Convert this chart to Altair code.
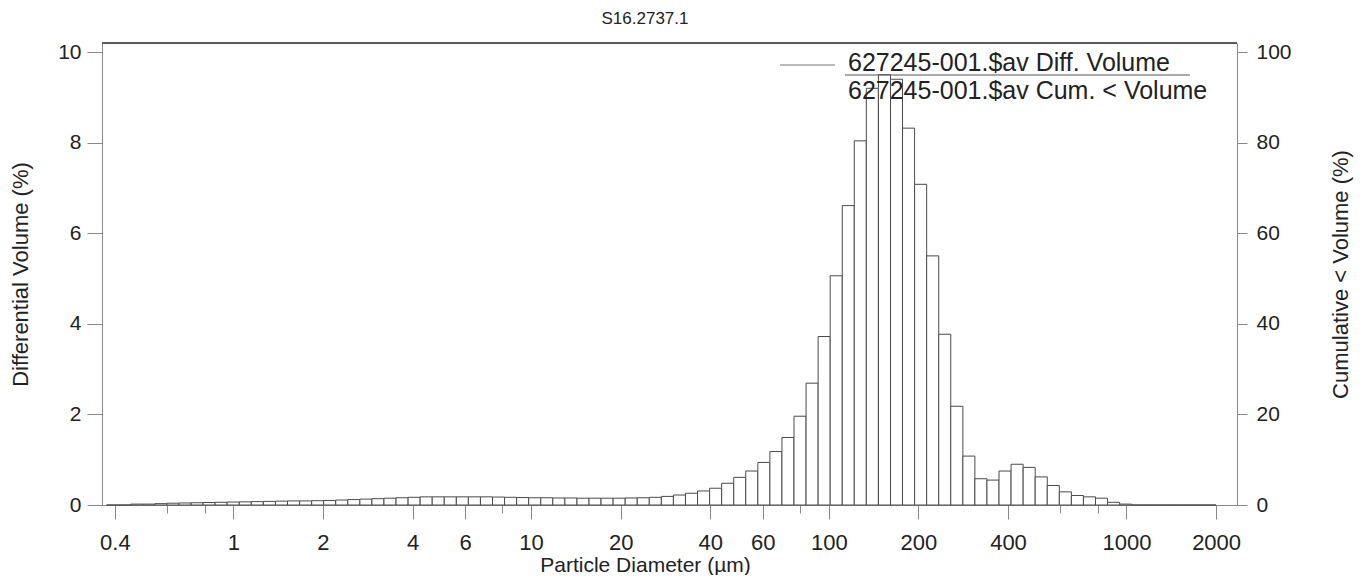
import altair as alt
import pandas as pd

# Channel edges (µm) of the size analyser
edges = [0.375, 0.412, 0.452, 0.496, 0.545, 0.598, 0.656, 0.721, 0.791, 0.868, 0.953,
         1.047, 1.149, 1.261, 1.385, 1.520, 1.669, 1.832, 2.010, 2.207, 2.423, 2.660, 2.920,
         3.205, 3.519, 3.863, 4.240, 4.655, 5.110, 5.610, 6.158, 6.760, 7.421, 8.147, 8.943, 9.817,
         10.78, 11.83, 12.99, 14.26, 15.65, 17.18, 18.86, 20.71, 22.73, 24.95, 27.39, 30.07,
         33.01, 36.24, 39.78, 43.67, 47.94, 52.62, 57.77, 63.41, 69.61, 76.42, 83.89, 92.09,
         101.1, 111.0, 121.8, 133.7, 146.8, 161.2, 176.9, 194.2, 213.2, 234.1, 256.9, 282.1,
         309.6, 339.9, 373.1, 409.6, 449.7, 493.6, 541.9, 594.9, 653.0, 716.9, 786.9, 863.9,
         948.3, 1041, 1143, 1255, 1377, 1512, 1660, 1822, 2000]

# Differential volume (%) per channel
diff_volume = [0, 0, 0.02, 0.02, 0.03, 0.04, 0.045, 0.05, 0.055, 0.06, 0.065,
               0.07, 0.075, 0.08, 0.085, 0.09, 0.09, 0.095, 0.10, 0.11, 0.12, 0.13, 0.14,
               0.15, 0.16, 0.17, 0.18, 0.18, 0.18, 0.18, 0.18, 0.18, 0.175, 0.17, 0.165, 0.16,
               0.16, 0.155, 0.155, 0.15, 0.15, 0.15, 0.15, 0.155, 0.16, 0.17, 0.19, 0.22,
               0.26, 0.31, 0.37, 0.48, 0.61, 0.75, 0.94, 1.18, 1.49, 1.96, 2.69, 3.72,
               5.06, 6.61, 8.04, 9.2, 9.5, 9.4, 8.32, 7.08, 5.50, 3.77, 2.18, 1.08,
               0.58, 0.55, 0.75, 0.90, 0.83, 0.62, 0.43, 0.29, 0.21, 0.18, 0.15, 0.06,
               0.02, 0, 0, 0, 0, 0, 0, 0]

x_major = [0.4, 1, 2, 4, 6, 10, 20, 40, 60, 100, 200, 400, 1000, 2000]
x_minor = [0.6, 0.8, 8, 80, 600, 800]
y_left_ticks = [0, 2, 4, 6, 8, 10]
y_right_ticks = [0, 20, 40, 60, 80, 100]
title_text = "S16.2737.1"
x_title = "Particle Diameter (µm)"
y_left_title = "Differential Volume (%)"
y_right_title = "Cumulative < Volume (%)"
legend_labels = ["627245-001.$av Diff. Volume", "627245-001.$av Cum. < Volume"]

bars = pd.DataFrame({"lo": edges[:-1], "hi": edges[1:], "v": diff_volume})

FONT = "Liberation Sans"
W, H = 1135, 462
INK = "#222222"
FRAME = "#2a2a2a"

minor_list = "[" + ",".join(str(v) for v in x_minor) + "]"
minor_test = f"indexof({minor_list}, datum.value) >= 0"

xscale = alt.Scale(type="log", domain=[0.362, 2351], nice=False)

xaxis = alt.Axis(
    values=x_major + x_minor,
    title=x_title,
    labelExpr=f"{minor_test} ? '' : datum.value + ''",
    tickSize={"condition": {"test": minor_test, "value": 8}, "value": 14},
    labelPadding=13,
    labelFontSize=22,
    labelFont=FONT,
    labelColor=INK,
    labelFlush=False,
    labelOverlap=False,
    grid=False,
    titleFont=FONT,
    titleFontSize=21,
    titleFontWeight="normal",
    titleColor=INK,
    titleX=543,
    titleY=60,
    titleAlign="center",
    titleBaseline="middle",
)

yaxis_left = alt.Axis(
    values=y_left_ticks,
    title=y_left_title,
    tickSize=15,
    labelPadding=6,
    labelFontSize=21,
    labelFont=FONT,
    labelColor=INK,
    grid=False,
    titleFont=FONT,
    titleFontSize=22,
    titleFontWeight="normal",
    titleColor=INK,
    titleAngle=270,
    titleX=-82,
    titleY=H / 2,
    titleAlign="center",
    titleBaseline="middle",
)

yaxis_right = alt.Axis(
    values=y_right_ticks,
    orient="right",
    title=y_right_title,
    tickSize=10,
    labelPadding=9,
    labelFontSize=21,
    labelFont=FONT,
    labelColor=INK,
    grid=False,
    titleFont=FONT,
    titleFontSize=22,
    titleFontWeight="normal",
    titleColor=INK,
    titleAngle=270,
    titleX=103,
    titleY=H / 2,
    titleAlign="center",
    titleBaseline="middle",
)

bar_layer = alt.Chart(bars).mark_rect(
    fill="white", stroke="#4a4a4a", strokeWidth=1
).encode(
    x=alt.X("lo:Q", scale=xscale, axis=xaxis),
    x2="hi:Q",
    y=alt.Y("v:Q", scale=alt.Scale(domain=[0, 10.2], nice=False, zero=True), axis=yaxis_left),
    y2=alt.datum(0),
)

right_layer = alt.Chart(pd.DataFrame({"cum": y_right_ticks})).mark_point(opacity=0).encode(
    y=alt.Y("cum:Q", scale=alt.Scale(domain=[0, 102], nice=False), axis=yaxis_right)
)

one = pd.DataFrame({"k": [0]})

top_frame = alt.Chart(one).mark_rule(color=FRAME, strokeWidth=1.4).encode(
    x=alt.value(0), x2=alt.value(W), y=alt.value(0)
)

sample_line = alt.Chart(one).mark_rule(color="#777777", strokeWidth=1).encode(
    x=alt.value(678), x2=alt.value(733), y=alt.value(22)
)

underline = alt.Chart(one).mark_rule(color="#555555", strokeWidth=1.2).encode(
    x=alt.value(743), x2=alt.value(1088), y=alt.value(32)
)

label1 = alt.Chart(pd.DataFrame({"t": [legend_labels[0]]})).mark_text(
    align="left", baseline="alphabetic", font=FONT, fontSize=25, color=INK
).encode(text="t:N", x=alt.value(746), y=alt.value(28))

label2 = alt.Chart(pd.DataFrame({"t": [legend_labels[1]]})).mark_text(
    align="left", baseline="alphabetic", font=FONT, fontSize=25, color=INK
).encode(text="t:N", x=alt.value(746), y=alt.value(56))

title_mark = alt.Chart(pd.DataFrame({"t": [title_text]})).mark_text(
    align="center", baseline="alphabetic", font=FONT, fontSize=17, color=INK
).encode(text="t:N", x=alt.value(543), y=alt.value(-19.5))

chart = alt.layer(
    bar_layer, right_layer, top_frame, sample_line, underline, label1, label2, title_mark
).resolve_scale(
    y="independent"
).properties(
    width=W,
    height=H,
    autosize=alt.AutoSizeParams(type="none"),
    padding={"left": 94, "top": 35, "right": 118, "bottom": 70},
).configure_view(
    stroke=FRAME, strokeWidth=1.4
).configure_axis(
    domainColor=FRAME, tickColor=FRAME, domainWidth=1.4, tickWidth=1.2
).configure(background="white")

chart.save("out.html", embed_options={"renderer": "svg", "actions": False})
